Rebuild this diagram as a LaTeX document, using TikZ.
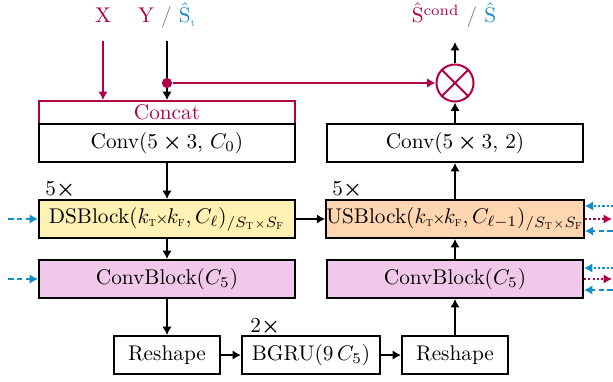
\documentclass[tikz,border=0pt]{standalone}
\usepackage{bm,graphicx}
\usetikzlibrary{arrows.meta,calc}
\definecolor{cred}{RGB}{178,0,72}
\definecolor{cblue}{RGB}{20,140,200}
\definecolor{cgray}{RGB}{120,120,120}
\definecolor{dsfill}{RGB}{255,242,178}
\definecolor{usfill}{RGB}{255,214,176}
\definecolor{cbfill}{RGB}{242,200,234}
\newcommand\tn[1]{\hbox{\scalebox{0.48}{#1}}}
\newcommand\kkTF{k_{\tn{T}}\mkern-1.5mu{\scriptstyle\times}\mkern-1.5mu k_{\tn{F}}}
\newcommand\subSTF{_{/S_{\tn{T}}{\scriptscriptstyle\times}S_{\tn{F}}}}
\begin{document}
\begin{tikzpicture}[x=0.47pt,y=-0.47pt,
  box/.style={draw, line width=0.94pt, inner sep=0pt, minimum height=17.86pt},
  wide/.style={box, minimum width=120.32pt},
  arr/.style={line width=0.94pt, -{Latex[length=3.9pt,width=4.4pt]}},
  redarr/.style={arr, cred},
  bluedash/.style={line width=0.94pt, cblue, dash pattern=on 2.6pt off 1.6pt, -{Latex[length=3.9pt,width=4.4pt]}},
  bluedot/.style={line width=0.94pt, cblue, dash pattern=on 1pt off 1pt, -{Latex[length=3.9pt,width=4.4pt]}},
  reddot/.style={line width=0.94pt, cred, dash pattern=on 1pt off 1pt, -{Latex[length=3.9pt,width=4.4pt]}},
  lbl/.style={inner sep=0pt, anchor=base}
]
\useasboundingbox (0,0) rectangle (613,381);

% top labels
\node[lbl, text=cred] (xl) at (103,23) {X};
\node[lbl] (yl) at (167,23) {\textcolor{cred}{Y} \textcolor{cgray}{/} \textcolor{cblue}{$\hat{\mathrm{S}}_{\tn{t}}$}};
\node[lbl] (outl) at (454,23) {\textcolor{cred}{$\hat{\mathrm{S}}^{\mathrm{cond}}$} \textcolor{cgray}{/} \textcolor{cblue}{$\hat{\mathrm{S}}$}};

\coordinate (xin) at (103,41);
\coordinate (yin) at (167,41);
\coordinate (outtop) at (455,42);

% left column
\node[wide, draw=cred, minimum height=10.8pt, text=cred] (concat) at (167,112.5) {Concat};
\node[wide] (conv0) at (167,143) {Conv($5\bm{\times}3$, $C_0$)};
\node[wide, fill=dsfill] (ds) at (167,219) {DSBlock$(\kkTF,C_\ell)\subSTF$};
\node[wide, fill=cbfill] (cbL) at (167,279) {ConvBlock$(C_5)$};
\node[box, minimum width=49.8pt] (rsL) at (167,355) {Reshape};
\node[box, minimum width=64.9pt] (bgru) at (311,355) {BGRU$(9\,C_5)$};
\node[box, minimum width=49.8pt] (rsR) at (455,355) {Reshape};

% right column
\node[wide, fill=cbfill] (cbR) at (455,279) {ConvBlock$(C_5)$};
\node[wide, fill=usfill] (us) at (455,219) {USBlock$(\kkTF,C_{\ell-1})\subSTF$};
\node[wide] (conv2) at (455,143) {Conv($5\bm{\times}3$, $2$)};
\node[circle, draw=cred, line width=0.94pt, minimum size=17.4pt, inner sep=0pt] (ot) at (455,83) {};
\draw[cred, line width=0.94pt] (ot.north west) -- (ot.south east) (ot.north east) -- (ot.south west);

% repeat labels
\node[lbl, anchor=base west] (r1) at (45,195) {5$\bm{\times}$};
\node[lbl, anchor=base west] (r2) at (332,195) {5$\bm{\times}$};
\node[lbl, anchor=base west] (r3) at (250,332) {2$\bm{\times}$};

% connectors
\draw[redarr] (xin) -- (xin |- concat.north);
\draw[arr] (yin) -- (yin |- concat.north);
\node[circle, fill=cred, inner sep=0pt, minimum size=4.8pt] (dot) at (167,83) {};
\draw[redarr] (dot) -- (ot.west);
\draw[arr] (conv0) -- (ds);
\draw[arr] (ds) -- (cbL);
\draw[arr] (cbL) -- (rsL);
\draw[arr] (rsL) -- (bgru);
\draw[arr] (bgru) -- (rsR);
\draw[arr] (rsR) -- (cbR);
\draw[arr] (cbR) -- (us);
\draw[arr] (us) -- (conv2);
\draw[arr] (conv2) -- (ot);
\draw[arr] (ot) -- (outtop);
\draw[arr] (ds) -- (us);

% left dashed inputs
\coordinate (li1) at (8,219);
\coordinate (li2) at (8,279);
\draw[bluedash] (li1) -- (ds.west);
\draw[bluedash] (li2) -- (cbL.west);

% right side inputs/outputs
\coordinate (ua) at (613,206);
\coordinate (ub) at (612,219);
\coordinate (uc) at (613,231);
\coordinate (ca) at (613,268);
\coordinate (cb) at (612,279);
\coordinate (cc) at (613,290);
\draw[bluedot] (ua) -- (ua -| us.east);
\draw[reddot] (us.east) -- (ub);
\draw[bluedash] (uc) -- (uc -| us.east);
\draw[bluedot] (ca) -- (ca -| cbR.east);
\draw[reddot] (cbR.east) -- (cb);
\draw[bluedash] (cc) -- (cc -| cbR.east);
\end{tikzpicture}
\end{document}
